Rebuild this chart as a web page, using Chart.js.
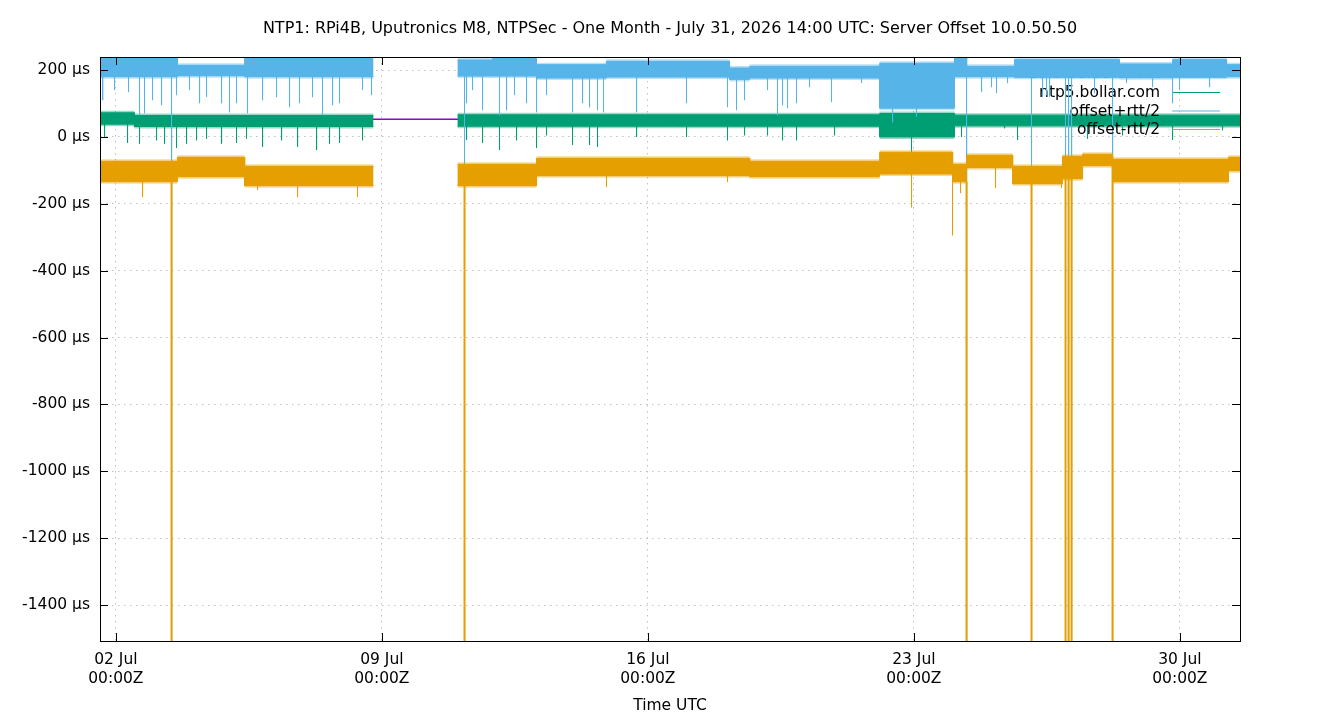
<!DOCTYPE html>
<html>
<head>
<meta charset="utf-8">
<title>Server Offset 10.0.50.50</title>
<script src="https://cdn.jsdelivr.net/npm/chart.js@4.4.1/dist/chart.umd.min.js"></script>
<style>
  html, body { margin: 0; padding: 0; background: #fff; }
</style>
</head>
<body>
<canvas id="offsetChart" width="1340" height="720"></canvas>
<script>
const chartTitle = 'NTP1: RPi4B, Uputronics M8, NTPSec - One Month - July 31, 2026 14:00 UTC: Server Offset 10.0.50.50';

// Axis ticks
const xTickDays = [2, 9, 16, 23, 30];
const xTickLabels = ['02 Jul', '09 Jul', '16 Jul', '23 Jul', '30 Jul'];
const yTicks = [200, 0, -200, -400, -600, -800, -1000, -1200, -1400];

// Legend (gnuplot style, each entry drawn just before its own trace)
const seriesLabels = ['10.0.50.50 offset', 'ntp5.bollar.com', 'offset+rtt/2', 'offset-rtt/2'];

// Purple offset trace (mostly hidden under the green band)
const purpleDays = [1.5833, 8.78, 10.99, 31.5833];
const purpleVals = [55, 53, 53, 50];

// Green band: ntp5.bollar.com offset (µs), per segment between day breakpoints
const greenDays = [1.5833, 2.49, 8.78, 10.99, 22.10, 24.07, 31.5833];
const greenHi = [72, 64, null, 66, 70, 65];
const greenLo = [38, 31, null, 32, 0, 33];

// Blue band: offset+rtt/2
const blueDays = [1.5833, 3.62, 5.39, 8.78, 10.99, 11.91, 13.07, 14.91, 18.15, 18.68, 22.10, 24.07, 24.39, 25.65, 28.41, 29.81, 31.23, 31.5833];
const blueHi = [245, 214, 245, null, 230, 245, 216, 226, 206, 211, 220, 245, 211, 231, 218, 231, 216];
const blueLo = [180, 183, 180, null, 182, 182, 176, 179, 172, 176, 86, 180, 180, 178, 177, 178, 180];

// Orange band: offset-rtt/2
const orangeDays = [1.5833, 3.62, 5.39, 8.78, 10.99, 13.07, 18.68, 22.10, 24.02, 24.39, 25.60, 26.91, 27.44, 28.23, 31.28, 31.5833];
const orangeHi = [-73, -61, -88, null, -82, -64, -73, -46, -82, -55, -88, -58, -52, -67, -61];
const orangeLo = [-134, -119, -146, null, -146, -116, -119, -111, -134, -92, -140, -125, -86, -134, -101];

// Downward spikes: day and tip value (µs)
const blueSpikeDays = [1.653, 1.966, 2.334, 2.624, 2.755, 2.966, 3.203, 3.597, 3.939, 4.203, 4.387, 4.782, 4.992, 5.176, 5.466, 5.861, 6.229, 6.571, 6.834, 7.176, 7.439, 7.703, 7.887, 8.492, 8.729,
  11.229, 11.387, 11.650, 12.097, 12.282, 12.492, 12.808, 13.071, 13.334, 14.018, 14.282, 14.466, 14.676, 14.834, 15.703, 17.018, 18.097, 18.334, 18.545, 19.150, 19.413, 19.545, 19.676, 19.913, 20.255, 20.834, 21.624,
  22.44, 23.07, 24.782, 25.045, 25.176, 25.466, 26.387, 26.492, 26.571, 27.755, 28.597, 29.282, 29.808, 29.992, 30.782];
const blueSpikeTips = [110, 140, 134, 65, 71, 110, 95, 125, 140, 101, 120, 101, 74, 101, 71, 110, 119, 89, 101, 119, 65, 95, 101, 140, 125,
  101, 140, 80, 65, 80, 125, 101, 74, 125, 74, 101, 89, 80, 74, 74, 101, 89, 80, 110, 140, 65, 95, 86, 101, 149, 104, 161,
  44, 60, 134, 149, 131, 161, 120, 125, 120, 131, 161, 149, 101, 140, 149];

const greenSpikeDays = [1.703, 2.308, 2.624, 3.071, 3.282, 3.597, 3.861, 4.124, 4.387, 4.782, 5.176, 5.439, 5.861, 6.361, 6.782, 7.282, 7.624, 7.887, 8.492,
  11.229, 11.650, 12.097, 12.545, 13.071, 13.334, 14.018, 14.466, 14.676, 15.703, 17.018, 18.097, 18.545, 19.150, 19.545, 19.913, 20.913,
  22.939, 24.255, 25.387, 25.729, 27.571, 28.334, 28.492, 29.808, 31.124];
const greenSpikeTips = [-3, -18, -20, -10, -20, -33, -20, -10, -5, -20, -18, -5, -30, -10, -30, -39, -20, -18, -10,
  -9, -18, -39, -10, -33, 5, -24, -24, -30, 0, 0, -10, 5, 5, -10, -10, 5,
  -210, 0, 26, -9, -5, 26, 5, -9, 20];

const orangeSpikeDays = [2.703, 5.729, 6.782, 8.360, 13.071, 14.913, 18.097, 22.939, 24.018, 24.229, 25.150, 26.886];
const orangeSpikeTips = [-180, -159, -180, -180, -144, -150, -135, -210, -294, -168, -153, -153];

// Large excursions that run off the bottom of the plot
const dropDays = [3.466, 11.176, 24.387, 26.097, 26.992, 27.071, 27.150, 28.229];
const dropFloor = -1600;

const colors = {
  purple: '#9400d3',
  green: '#009e73',
  blue: '#56b4e9',
  orange: '#e69f00'
};
const fringeColors = {
  green: 'rgba(0,158,115,0.4)',
  blue: 'rgba(86,180,233,0.4)',
  orange: 'rgba(230,159,0,0.4)'
};
const FRINGE = 6; // µs of ragged edge around each noise band
const FONT = 'DejaVu Sans';
const keyRowsY = [73, 92, 110.5, 129];

// Utility: value of a stepped band at a given day
function valueAt(days, vals, d) {
  for (let i = 0; i < vals.length; i++) {
    if (d >= days[i] && d <= days[i + 1]) return vals[i];
  }
  return vals[vals.length - 1];
}

// Utility: stepped band edge as points
function bandPoints(days, vals, shift) {
  const pts = [];
  for (let i = 0; i < vals.length; i++) {
    const v = vals[i] === null ? null : vals[i] + (shift || 0);
    pts.push({ x: days[i], y: v }, { x: days[i + 1], y: v });
  }
  return pts;
}

// Utility: vertical spikes from a band edge to a tip, broken by nulls
function spikePoints(days, tips, bandDays, bandLo) {
  const pts = [];
  days.forEach((d, i) => {
    pts.push({ x: d, y: valueAt(bandDays, bandLo, d) }, { x: d, y: tips[i] }, { x: d, y: null });
  });
  return pts;
}

function lineSet(label, data, color, order, extra) {
  return Object.assign({
    label: label,
    data: data,
    borderColor: color,
    backgroundColor: color,
    borderWidth: 1,
    pointRadius: 0,
    tension: 0,
    fill: false,
    spanGaps: false,
    order: order
  }, extra || {});
}

// One series = core band, spikes, drops, and a lighter ragged fringe underneath.
// Within one order, higher index is drawn first, so the fringe (last) goes down first
// and carries the key row.
function seriesSets(key, row, days, hi, lo, spikeDays, spikeTips, order, dropWidth) {
  const c = colors[key];
  const fc = fringeColors[key];
  const label = seriesLabels[row];
  return [
    lineSet(label, bandPoints(days, hi), c, order, { fill: '+1' }),
    lineSet(label + ' lo', bandPoints(days, lo), c, order),
    lineSet(label + ' spikes', spikePoints(spikeDays, spikeTips, days, lo), c, order),
    lineSet(label + ' drops', spikePoints(dropDays, dropDays.map(() => dropFloor), days, lo), c, order, { borderWidth: dropWidth }),
    lineSet(label + ' fringe hi', bandPoints(days, hi, FRINGE), 'rgba(0,0,0,0)', order, { fill: '+1', backgroundColor: fc }),
    lineSet(label + ' fringe lo', bandPoints(days, lo, -FRINGE), 'rgba(0,0,0,0)', order, { keyRow: row, keyColor: c })
  ];
}

const datasets = [].concat(
  seriesSets('orange', 3, orangeDays, orangeHi, orangeLo, orangeSpikeDays, orangeSpikeTips, 1, 2),
  seriesSets('blue', 2, blueDays, blueHi, blueLo, blueSpikeDays, blueSpikeTips, 2, 1),
  seriesSets('green', 1, greenDays, greenHi, greenLo, greenSpikeDays, greenSpikeTips, 3, 1),
  [lineSet(seriesLabels[0], purpleDays.map((d, i) => ({ x: d, y: purpleVals[i] })), colors.purple, 4,
    { borderWidth: 1.5, keyRow: 0, keyColor: colors.purple })]
);

// Title centred on the full canvas, like gnuplot
const titlePlugin = {
  id: 'gnuplotTitle',
  afterDraw(chart) {
    const ctx = chart.ctx;
    ctx.save();
    ctx.font = '16px "' + FONT + '"';
    ctx.fillStyle = '#000';
    ctx.textAlign = 'center';
    ctx.textBaseline = 'middle';
    ctx.fillText(chartTitle, chart.width / 2, 29);
    ctx.restore();
  }
};

// Key entry drawn right before its trace, so later traces cover it
const keyPlugin = {
  id: 'gnuplotKey',
  beforeDatasetDraw(chart, args) {
    const ds = chart.data.datasets[args.index];
    if (ds.keyRow === undefined) return;
    const ctx = chart.ctx;
    const y = keyRowsY[ds.keyRow];
    ctx.save();
    ctx.font = '15.5px "' + FONT + '"';
    ctx.textAlign = 'right';
    ctx.textBaseline = 'middle';
    ctx.fillStyle = '#000';
    ctx.fillText(seriesLabels[ds.keyRow], 1160, y + 1);
    ctx.strokeStyle = ds.keyColor;
    ctx.lineWidth = 1;
    ctx.beginPath();
    ctx.moveTo(1172, y + 0.5);
    ctx.lineTo(1220, y + 0.5);
    ctx.stroke();
    ctx.restore();
  }
};

// Border box and inward tick marks, drawn on top of the data
const framePlugin = {
  id: 'gnuplotFrame',
  afterDatasetsDraw(chart) {
    const { ctx, chartArea: a, scales } = chart;
    const t = 8;
    ctx.save();
    ctx.strokeStyle = '#000';
    ctx.lineWidth = 1;
    ctx.strokeRect(Math.round(a.left) + 0.5, Math.round(a.top) + 0.5, Math.round(a.right - a.left), Math.round(a.bottom - a.top));
    ctx.beginPath();
    xTickDays.forEach(v => {
      const px = Math.round(scales.x.getPixelForValue(v)) + 0.5;
      ctx.moveTo(px, a.bottom); ctx.lineTo(px, a.bottom - t);
      ctx.moveTo(px, a.top); ctx.lineTo(px, a.top + t);
    });
    yTicks.forEach(v => {
      const py = Math.round(scales.y.getPixelForValue(v)) + 0.5;
      ctx.moveTo(a.left, py); ctx.lineTo(a.left + t, py);
      ctx.moveTo(a.right, py); ctx.lineTo(a.right - t, py);
    });
    ctx.stroke();
    ctx.restore();
  }
};

const ctx = document.getElementById('offsetChart').getContext('2d');
new Chart(ctx, {
  type: 'line',
  data: { datasets: datasets },
  options: {
    responsive: false,
    animation: false,
    devicePixelRatio: 1,
    layout: { padding: { left: 0, right: 100, top: 57, bottom: 0 } },
    plugins: {
      legend: { display: false },
      tooltip: { enabled: false },
      title: { display: false }
    },
    scales: {
      x: {
        type: 'linear',
        min: 1.5833,
        max: 31.5833,
        afterBuildTicks: scale => { scale.ticks = xTickDays.map(v => ({ value: v })); },
        afterFit: scale => { scale.height = 79; },
        ticks: {
          autoSkip: false,
          maxRotation: 0,
          padding: 10,
          color: '#000',
          font: { family: FONT, size: 15.5 },
          callback: v => [xTickLabels[xTickDays.indexOf(v)], '00:00Z']
        },
        grid: { color: '#c0c0c0', lineWidth: 1, drawTicks: false },
        border: { display: false, dash: [1.5, 4.5] },
        title: {
          display: true,
          text: 'Time UTC',
          color: '#000',
          font: { family: FONT, size: 15.5 },
          padding: { top: 0, bottom: 5 }
        }
      },
      y: {
        type: 'linear',
        min: -1507.5,
        max: 238.9,
        afterBuildTicks: scale => { scale.ticks = yTicks.map(v => ({ value: v })); },
        afterFit: scale => { scale.width = 100; },
        ticks: {
          padding: 10,
          color: '#000',
          font: { family: FONT, size: 15.5 },
          callback: v => v + ' µs'
        },
        grid: { color: '#c0c0c0', lineWidth: 1, drawTicks: false },
        border: { display: false, dash: [1.5, 4.5] }
      }
    }
  },
  plugins: [keyPlugin, framePlugin, titlePlugin]
});
</script>
</body>
</html>
